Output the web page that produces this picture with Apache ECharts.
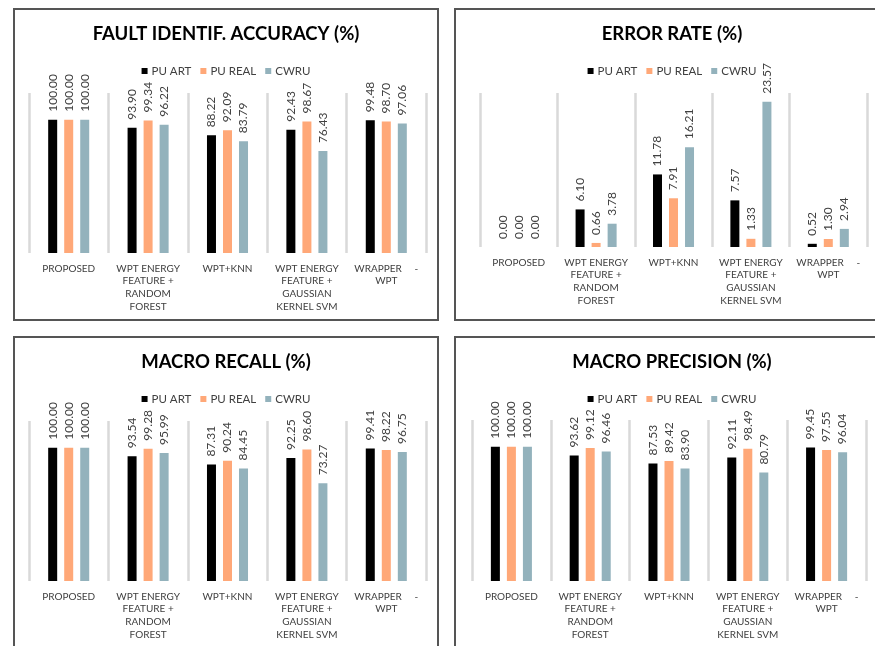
<!DOCTYPE html>
<html>
<head>
<meta charset="utf-8">
<script src="https://cdn.jsdelivr.net/npm/echarts@6/dist/echarts.min.js"></script>
<style>
  html, body { margin: 0; padding: 0; background: #ffffff; width: 875px; height: 646px; overflow: hidden; position: relative; }
  .panel { position: absolute; width: 426px; height: 313px; border: 2px solid #555555; box-sizing: border-box; background: #ffffff; }
  .panel.wide { width: 436px; }
  .panel > div { position: absolute; left: 0; top: 0; width: 100%; height: 100%; }
</style>
</head>
<body>
<div class="panel" id="p1" style="left:13px; top:8px;"><div id="c1"></div></div>
<div class="panel wide" id="p2" style="left:454px; top:8px;"><div id="c2"></div></div>
<div class="panel" id="p3" style="left:13px; top:336px;"><div id="c3"></div></div>
<div class="panel wide" id="p4" style="left:454px; top:336px;"><div id="c4"></div></div>
<script>
// Methods compared on each dataset
const categories = [
  'PROPOSED',
  'WPT ENERGY\nFEATURE +\nRANDOM\nFOREST',
  'WPT+KNN',
  'WPT ENERGY\nFEATURE +\nGAUSSIAN\nKERNEL SVM',
  'WRAPPER     -\nWPT'
];
const seriesNames = ['PU ART', 'PU REAL', 'CWRU'];

// Fault identification accuracy (%)
const accuracyPuArt  = [100.00, 93.90, 88.22, 92.43, 99.48];
const accuracyPuReal = [100.00, 99.34, 92.09, 98.67, 98.70];
const accuracyCwru   = [100.00, 96.22, 83.79, 76.43, 97.06];

// Error rate (%)
const errorPuArt  = [0.00, 6.10, 11.78, 7.57, 0.52];
const errorPuReal = [0.00, 0.66, 7.91, 1.33, 1.30];
const errorCwru   = [0.00, 3.78, 16.21, 23.57, 2.94];

// Macro recall (%)
const recallPuArt  = [100.00, 93.54, 87.31, 92.25, 99.41];
const recallPuReal = [100.00, 99.28, 90.24, 98.60, 98.22];
const recallCwru   = [100.00, 95.99, 84.45, 73.27, 96.75];

// Macro precision (%)
const precisionPuArt  = [100.00, 93.62, 87.53, 92.11, 99.45];
const precisionPuReal = [100.00, 99.12, 89.42, 98.49, 97.55];
const precisionCwru   = [100.00, 96.46, 83.90, 80.79, 96.04];

const colors = ['#000000', '#FFA878', '#93B2BC'];
const FONT = 'Lato, "Open Sans", sans-serif';

function buildOption(title, values, yMax, grid) {
  return {
    animation: false,
    color: colors,
    title: {
      text: title,
      left: 'center',
      top: 10,
      textStyle: { fontFamily: FONT, fontWeight: 'bold', fontSize: 18.5, color: '#000000' }
    },
    legend: {
      data: seriesNames,
      top: 50,
      left: 'center',
      icon: 'rect',
      itemWidth: 6,
      itemHeight: 6,
      itemGap: 9,
      textStyle: { fontFamily: FONT, fontSize: 11.5, color: '#404040', padding: [0, 0, 0, -1] }
    },
    grid: grid,
    xAxis: {
      type: 'category',
      data: categories,
      axisLine: { show: false },
      axisTick: { show: false },
      splitLine: { show: true, interval: 0, lineStyle: { color: '#d9d9d9', width: 2.5 } },
      axisLabel: {
        interval: 0,
        margin: 9,
        fontFamily: FONT,
        fontSize: 10,
        lineHeight: 12.7,
        color: '#404040'
      }
    },
    yAxis: {
      type: 'value',
      min: 0,
      max: yMax,
      show: false,
      splitLine: { show: false }
    },
    series: values.map((v, i) => ({
      name: seriesNames[i],
      type: 'bar',
      data: v,
      barWidth: 9,
      barGap: '78%',
      label: {
        show: true,
        position: 'top',
        rotate: 90,
        align: 'left',
        verticalAlign: 'middle',
        distance: 8,
        fontFamily: FONT,
        fontSize: 12,
        color: '#404040',
        formatter: p => p.value.toFixed(2)
      }
    }))
  };
}

const panels = [
  ['c1', 'FAULT IDENTIF. ACCURACY (%)', [accuracyPuArt, accuracyPuReal, accuracyCwru], 120,
    { left: 14, right: 11, top: 83, bottom: 66 }],
  ['c2', 'ERROR RATE (%)', [errorPuArt, errorPuReal, errorCwru], 25,
    { left: 24, right: 21, top: 83, bottom: 72 }],
  ['c3', 'MACRO RECALL (%)', [recallPuArt, recallPuReal, recallCwru], 120,
    { left: 14, right: 11, top: 83, bottom: 66 }],
  ['c4', 'MACRO PRECISION (%)', [precisionPuArt, precisionPuReal, precisionCwru], 120,
    { left: 16, right: 22, top: 82, bottom: 66 }]
];

panels.forEach(([id, title, vals, yMax, grid]) => {
  const chart = echarts.init(document.getElementById(id), null, { renderer: 'canvas' });
  chart.setOption(buildOption(title, vals, yMax, grid));
});
</script>
</body>
</html>
